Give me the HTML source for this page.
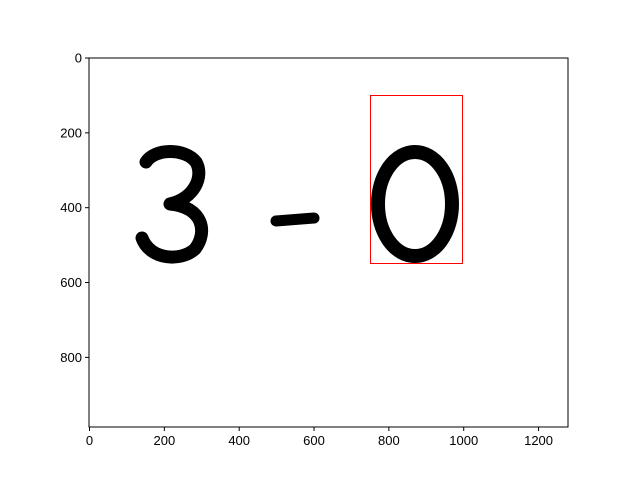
<!DOCTYPE html>
<html><head><meta charset="utf-8"><style>
body{margin:0;background:#fff;}
svg text{font-family:"Liberation Sans",sans-serif;font-size:13px;fill:#000;}
</style></head><body>
<svg id="chart" width="640" height="480">
<rect x="0" y="0" width="640" height="480" fill="#fff"/>
<g id="image">
<path d="M146,162 C155,148 185,148 196,162 C204,176 195,198 170,204 C203,207 208,232 195,249 C181,262 150,260 142,238" fill="none" stroke="#000" stroke-width="13" stroke-linecap="round" stroke-linejoin="round"/>
<path d="M276,221 L314,218" fill="none" stroke="#000" stroke-width="11" stroke-linecap="round"/>
<ellipse cx="415" cy="204" rx="37" ry="52" fill="none" stroke="#000" stroke-width="14"/>
</g>
<g id="overlay"></g>
<rect x="89" y="58" width="479" height="369" fill="none" stroke="#000" stroke-width="1"/>
<g id="axes"></g>
</svg>
<script>
const xTicks=[0,200,400,600,800,1000,1200];
const yTicks=[0,200,400,600,800];
const bbox=[750,100,995,550]; // x0,y0,x1,y1 in image coords
const imgW=1280, imgH=986;
const L=89,T=58,W=479,H=369;
const sx=v=>L+v*W/imgW, sy=v=>T+v*H/imgH;
const NS="http://www.w3.org/2000/svg";
const ax=document.getElementById('axes'), ov=document.getElementById('overlay');
function mk(t,a,p){const e=document.createElementNS(NS,t);for(const k in a)e.setAttribute(k,a[k]);p.appendChild(e);return e;}
const r=mk('rect',{x:Math.round(sx(bbox[0]))+0.5,y:Math.round(sy(bbox[1]))+0.5,width:Math.round(sx(bbox[2])-sx(bbox[0])),height:Math.round(sy(bbox[3])-sy(bbox[1])),fill:'none',stroke:'#ff0000','stroke-width':1},ov);


xTicks.forEach(v=>{const x=sx(v)+0.5;
mk('line',{x1:x,x2:x,y1:T+H,y2:T+H+4,stroke:'#000'},ax);
const t=mk('text',{x:x,y:T+H+18,'text-anchor':'middle'},ax);t.textContent=v;

});
yTicks.forEach(v=>{const y=sy(v);
mk('line',{x1:L-4,x2:L,y1:y,y2:y,stroke:'#000'},ax);
const t=mk('text',{x:L-7,y:y+4.5,'text-anchor':'end'},ax);t.textContent=v;

});
</script>
</body></html>
